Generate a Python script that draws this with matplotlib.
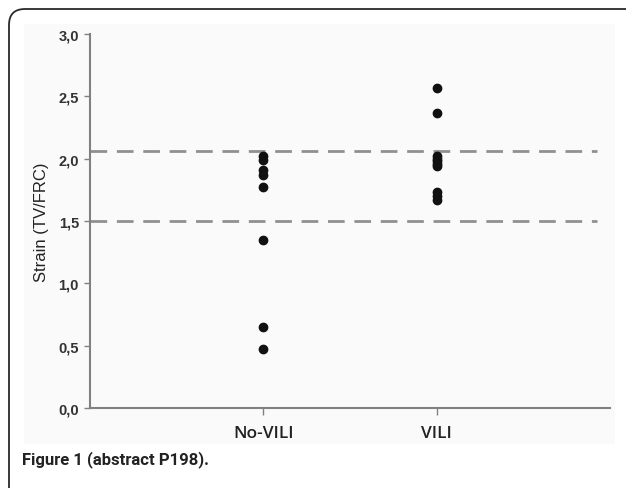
import matplotlib
matplotlib.use("Agg")
import matplotlib.pyplot as plt
from matplotlib.patches import FancyBboxPatch, Rectangle

# data
groups = ["No-VILI", "VILI"]
no_vili = [2.02, 1.99, 1.91, 1.87, 1.77, 1.35, 0.65, 0.47]
vili = [2.57, 2.37, 2.02, 2.00, 1.98, 1.96, 1.94, 1.73, 1.70, 1.67]
ref_lines = [2.06, 1.50]
yticks = [0.0, 0.5, 1.0, 1.5, 2.0, 2.5, 3.0]

W, H = 626, 489
fig = plt.figure(figsize=(W / 100, H / 100), dpi=100)

# faint panel behind the plot
fig.patches.append(Rectangle((24 / W, 1 - 445 / H), (615 - 24) / W, (445 - 25) / H,
                             transform=fig.transFigure, facecolor="#fafafa",
                             edgecolor="none", zorder=-2))
# rounded frame, only top and left visible
fig.patches.append(FancyBboxPatch((9, -30), 800, (H - 10) + 30,
                                  boxstyle="round,pad=0,rounding_size=16",
                                  transform=None, facecolor="none",
                                  edgecolor="#2a2a2a", linewidth=1.3, zorder=-1))

ax = fig.add_axes([90 / W, 80 / H, 520 / W, 374 / H])
ax.set_zorder(2)
ax.set_facecolor("none")

for y in ref_lines:
    ax.axhline(y, xmin=0, xmax=0.975, color="#909090", linewidth=2,
               linestyle=(0, (6, 3.5)), zorder=1)

ax.plot([1] * len(no_vili), no_vili, "o", color="#111111", markersize=6, zorder=3)
ax.plot([2] * len(vili), vili, "o", color="#111111", markersize=6, zorder=3)

ax.set_xlim(0, 3)
ax.set_ylim(0, 3)
ax.set_xticks([1, 2])
ax.set_xticklabels(groups, fontsize=12.5, color="#222222", family="Open Sans",
                   fontweight="semibold")
ax.set_yticks(yticks)
ax.set_yticklabels([f"{v:.1f}".replace(".", ",") for v in yticks],
                   fontsize=10.5, fontweight="bold", color="#333333",
                   family="Liberation Sans")
ax.tick_params(axis="y", length=4, width=1, color="#808080", pad=4)
ax.tick_params(axis="x", length=5, width=1, color="#808080", pad=7)

for side in ["top", "right"]:
    ax.spines[side].set_visible(False)
for side in ["left", "bottom"]:
    ax.spines[side].set_color("#808080")
    ax.spines[side].set_linewidth(1.5)

ax.set_ylabel("Strain (TV/FRC)", fontsize=12, color="#222222",
              family="Liberation Sans", labelpad=7)

fig.text(22 / W, 1 - 460 / H, "Figure 1 (abstract P198).", fontsize=12,
         fontweight="bold", family="Roboto", color="#222222",
         va="center", ha="left")

fig.savefig("out.png", dpi=100)
